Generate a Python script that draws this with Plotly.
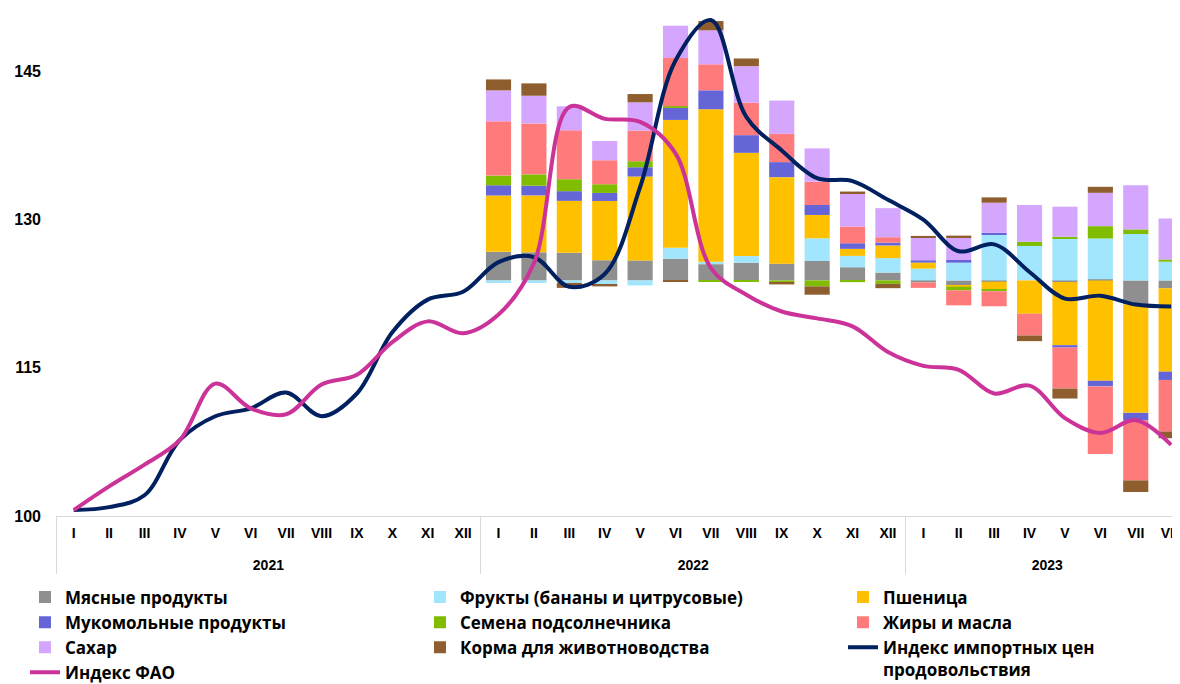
import plotly.graph_objects as go

# months / years for the two-level axis (year labels sit one line lower, as in the source)
roman = ["I", "II", "III", "IV", "V", "VI", "VII", "VIII", "IX", "X", "XI", "XII"]
years = ["<br>2021"] * 12 + ["<br>2022"] * 12 + ["<br>2023"] * 8
months = roman + roman + roman[:8]

# index lines, Jan 2021 .. Aug 2023
import_index = [100.6, 100.9, 102.1, 107.7, 110.1, 110.9, 112.5, 110.1, 112.4, 118.6, 121.9, 122.7,
                125.7, 126.2, 123.2, 124.5, 133.3, 146.1, 150.2, 140.4, 137.0, 134.2, 133.9, 132.0,
                130.0, 126.8, 127.5, 124.7, 122.0, 122.3, 121.4, 121.2]
fao_index = [100.6, 103.0, 105.2, 107.7, 113.4, 110.9, 110.3, 113.3, 114.3, 117.6, 119.7, 118.5,
             120.4, 125.6, 141.4, 140.2, 139.9, 136.7, 125.1, 122.4, 120.7, 120.0, 119.2, 116.6,
             115.2, 114.8, 112.4, 113.2, 109.9, 108.4, 109.7, 107.2]

# contributions (bars), Jan 2022 .. Aug 2023, stacked from the base level
bar_base = 123.84
meat = [2.9, 2.85, 2.8, 2.05, 2.03, 2.2, 1.65, 1.8, 1.7, 1.97, 1.34, 0.8,
        -0.2, -0.5, -0.12, 0.0, -0.15, 0.12, -2.4, -0.79]
fruit = [-0.25, -0.25, -0.25, -0.45, -0.5, 1.11, 0.24, 0.67, 0.0, 2.3, 1.15, 1.46,
         1.2, 1.8, 4.6, 3.49, 4.2, 4.13, 4.7, 1.9]
wheat = [5.7, 5.76, 5.26, 6.0, 8.49, 12.94, 15.44, 10.45, 8.76, 2.36, 0.71, 1.28,
         0.61, -0.13, -0.8, -3.37, -6.4, -10.15, -11.0, -8.44]
flour = [1.04, 0.98, 0.98, 0.81, 0.94, 1.28, 1.92, 1.79, 1.52, 1.01, 0.57, 0.3,
         0.24, 0.27, 0.23, 0.0, -0.24, -0.57, -0.78, -0.84]
seeds = [0.98, 1.15, 1.21, 0.88, 0.61, 0.1, -0.1, -0.1, -0.25, -0.6, -0.17, -0.34,
         0.0, -0.37, -0.17, 0.44, 0.23, 1.25, 0.47, 0.23]
fats = [5.49, 5.16, 4.95, 2.43, 3.1, 4.89, 2.63, 3.27, 2.86, 2.36, 1.69, 0.54,
        -0.55, -1.52, -1.52, -2.2, -4.15, -6.84, -6.05, -5.23]
sugar = [3.13, 2.8, 2.43, 1.95, 2.86, 3.27, 3.44, 3.71, 3.37, 3.37, 3.37, 2.94,
         2.26, 2.3, 3.04, 3.71, 3.04, 3.37, 4.48, 4.15]
feed = [1.11, 1.25, -0.5, -0.15, 0.84, -0.1, 0.94, 0.78, -0.15, -0.84, 0.17, -0.44,
        0.2, 0.17, 0.54, -0.57, -1.01, 0.61, -1.18, -0.67]

series = [
    ("Мясные продукты", meat, "#8f8f8f", "c1", 350),
    ("Фрукты (бананы и цитрусовые)", fruit, "#a2e6fd", "c2", 378),
    ("Пшеница", wheat, "#ffc000", "c3", None),
    ("Мукомольные продукты", flour, "#6565d8", "c1", 350),
    ("Семена подсолнечника", seeds, "#80bd00", "c2", 378),
    ("Жиры и масла", fats, "#ff7b7b", "c3", None),
    ("Сахар", sugar, "#d4a6fd", "c1", 350),
    ("Корма для животноводства", feed, "#8e5e2f", "c2", 378),
]

# no bars in 2021: pad with gaps so the axis keeps calendar order
pad = 12
pos = [bar_base] * len(meat)
neg = [bar_base] * len(meat)

fig = go.Figure()
for name, vals, color, grp, lw in series:
    bases = []
    for j, v in enumerate(vals):
        if v >= 0:
            bases.append(pos[j])
            pos[j] += v
        else:
            bases.append(neg[j])
            neg[j] += v
    fig.add_trace(go.Bar(x=[years, months], y=[None] * pad + vals, base=[bar_base] * pad + bases,
                         name=name, marker_color=color, marker_line_width=0,
                         legendgroup=grp, legendwidth=lw))

fig.add_trace(go.Scatter(x=[years, months], y=import_index, mode="lines",
                         name="Индекс импортных цен<br>продовольствия",
                         line=dict(color="#002060", width=4, shape="spline", smoothing=1),
                         legendgroup="c3"))
fig.add_trace(go.Scatter(x=[years, months], y=fao_index, mode="lines", name="Индекс ФАО",
                         line=dict(color="#cc3399", width=4, shape="spline", smoothing=1),
                         legendgroup="c1", legendwidth=350))

fig.update_layout(
    width=1172, height=676,
    margin=dict(l=48, r=0, t=0, b=168, autoexpand=False),
    plot_bgcolor="white", paper_bgcolor="white",
    barmode="overlay", bargap=0.29,
    showlegend=True,
    legend=dict(orientation="h", traceorder="grouped", x=-0.0276, xanchor="left",
                y=-0.125, yanchor="top", valign="top", tracegroupgap=0,
                font=dict(family="Open Sans", size=17, color="black", weight="bold")),
)
fig.update_xaxes(type="multicategory", range=[-0.5, 31.25], showline=True, linecolor="#d9d9d9",
                 linewidth=1, showgrid=False, ticks="", showdividers=True, dividercolor="#d9d9d9",
                 dividerwidth=1, ticklabelstandoff=4,
                 tickfont=dict(family="Liberation Sans", size=14, color="black", weight="bold"))
fig.update_yaxes(range=[100, 151.42], tickvals=[100, 115, 130, 145], showgrid=False, zeroline=False,
                 showline=False, ticks="", ticklabelstandoff=14,
                 tickfont=dict(family="Liberation Sans", size=16, color="black", weight="bold"))

fig.write_html("out.html")
